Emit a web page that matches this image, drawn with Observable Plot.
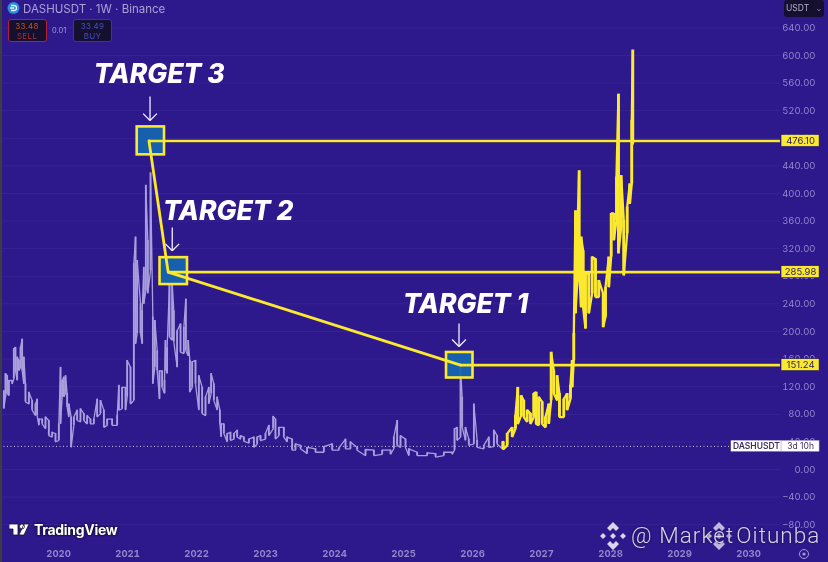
<!DOCTYPE html>
<html><head><meta charset="utf-8">
<script src="https://cdn.jsdelivr.net/npm/d3@7"></script>
<script src="https://cdn.jsdelivr.net/npm/@observablehq/plot@0.6"></script>
<style>
html,body{margin:0;padding:0;background:#2d188c;width:828px;height:562px;overflow:hidden;font-family:Inter,sans-serif}
#wrap{position:relative;width:828px;height:562px;filter:blur(.35px)}
#chart svg{display:block}
.o{position:absolute;white-space:nowrap}
.btn{box-sizing:border-box;background:#15102f;border-radius:3px;text-align:center;font-size:8px;line-height:9.5px;padding-top:2px;width:39px;height:23px;top:19px;letter-spacing:.3px}
</style></head><body>
<div id="wrap"><div id="chart"></div>
<div class="o" style="left:0;top:0;width:2px;height:562px;background:#3d3d45"></div>
<svg class="o" style="left:7px;top:2px" width="13" height="13"><circle cx="6.5" cy="6" r="6" fill="#2b8fd8"/><path d="M4 3.5h3a2.5 2.5 0 0 1 0 5H4M3 6h4" fill="none" stroke="#e8f4ff" stroke-width="1.3"/></svg>
<div class="o" style="left:23px;top:2px;font-size:11.5px;color:#a9a4d4">DASHUSDT · 1W · Binance</div>
<div class="o btn" style="left:7.5px;border:1px solid #b5202e;color:#c4501f">33.48<br><span style="color:#b02c2c">SELL</span></div>
<div class="o" style="left:52px;top:26px;font-size:7.5px;color:#a49fd0">0.01</div>
<div class="o btn" style="left:73px;border:1px solid #3236b0;color:#4450c4">33.49<br>BUY</div>
<div class="o" style="left:784px;top:0;width:40px;height:17px;background:#15102f;border-radius:3px;color:#b4b0c8;font-size:8.5px;line-height:17px;padding-left:2px;box-sizing:border-box">USDT <span style="font-size:6px;margin-left:5px">⌄</span></div>
<svg class="o" style="left:9px;top:523px" width="22" height="14"><path d="M0 1h9v11H4V6H0zM20 1l-5 11h-5l5-11zM13 1a2.5 2.5 0 1 1 0 5 2.5 2.5 0 1 1 0-5" fill="#fff" stroke="#15102f" stroke-width=".8"/></svg>
<div class="o" style="left:34px;top:521px;font-size:14px;font-weight:700;letter-spacing:-.3px;color:#fff;text-shadow:0 0 2px #15102f,0 0 2px #15102f,0 0 2px #15102f">TradingView</div>
<svg class="o" style="left:598px;top:521px" width="30" height="30" viewBox="-15 -15 30 30" fill="#d8d5ee"><path d="M0-14l6 6-3 3-3-3-3 3-3-3zM0 14l6-6-3-3-3 3-3-3-3 3zM-10-3l3 3-3 3-3-3zM10-3l3 3-3 3-3-3zM0-3l3 3-3 3-3-3z"/></svg>
<svg class="o" style="left:704px;top:521px" width="30" height="30" viewBox="-15 -15 30 30" fill="#d8d5ee" opacity=".85"><path d="M0-14l6 6-3 3-3-3-3 3-3-3zM0 14l6-6-3-3-3 3-3-3-3 3zM-10-3l3 3-3 3-3-3zM10-3l3 3-3 3-3-3zM0-3l3 3-3 3-3-3z"/></svg>
<div class="o" style="left:631px;top:522px;font-family:Roboto,sans-serif;font-size:22.5px;font-weight:300;letter-spacing:1.05px;color:#d8d5ee;text-shadow:0 0 2px #15102f">@ Market<span style="margin-left:2px">Oitunba</span></div>
<svg class="o" style="left:798px;top:548px" width="12" height="12"><circle cx="6" cy="6" r="4.5" fill="none" stroke="#a49fd0"/><circle cx="6" cy="6" r="1.6" fill="#a49fd0"/></svg>
</div>
<script>
// Weekly range of DASHUSDT, history: year, high, low (USDT)
const histYear=[2019.207,2019.231,2019.256,2019.28,2019.328,2019.352,2019.376,2019.401,2019.425,2019.449,2019.473,2019.497,2019.521,2019.57,2019.618,2019.666,2019.69,2019.715,2019.763,2019.811,2019.859,2019.908,2019.956,2020.004,2020.029,2020.053,2020.077,2020.101,2020.125,2020.149,2020.183,2020.222,2020.27,2020.318,2020.367,2020.415,2020.463,2020.512,2020.56,2020.608,2020.657,2020.705,2020.777,2020.85,2020.874,2020.922,2020.971,2020.995,2021.043,2021.091,2021.116,2021.14,2021.188,2021.212,2021.236,2021.265,2021.294,2021.333,2021.367,2021.396,2021.43,2021.463,2021.502,2021.536,2021.55,2021.574,2021.608,2021.647,2021.671,2021.719,2021.768,2021.816,2021.845,2021.879,2021.903,2021.937,2021.985,2022.033,2022.082,2022.13,2022.178,2022.212,2022.251,2022.299,2022.338,2022.357,2022.396,2022.444,2022.492,2022.541,2022.589,2022.637,2022.686,2022.758,2022.831,2022.879,2022.927,2022.999,2023.048,2023.111,2023.144,2023.193,2023.265,2023.313,2023.386,2023.434,2023.507,2023.603,2023.724,2023.845,2023.966,2024.062,2024.159,2024.231,2024.328,2024.449,2024.57,2024.691,2024.811,2024.859,2024.908,2024.956,2025.029,2025.077,2025.198,2025.343,2025.464,2025.584,2025.705,2025.739,2025.777,2025.826,2025.85,2025.898,2025.946,2026.019,2026.067,2026.164,2026.236,2026.309,2026.357,2026.43];
const histHigh=[114,139,136,129,129,175,177,163,158,177,189,163,124,112,100,95,102,73,73,76,71,54,52,66,148,129,134,136,110,95,76,76,86,88,81,78,73,73,102,100,86,73,73,78,122,119,119,158,148,298,337,303,240,230,293,412,332,430,221,216,172,143,143,129,187,177,269,269,230,201,211,206,247,187,158,156,158,136,119,105,119,139,124,105,86,66,66,52,54,52,57,49,47,44,47,47,49,52,64,77,73,61,61,47,44,37,35,32,30,33,37,31,44,40,32,29,28,28,28,47,71,49,44,30,25,24,23,25,25,59,61,148,105,61,44,95,42,35,47,57,49,40];
const histLow=[88,105,110,107,124,131,143,129,143,148,143,124,98,95,86,78,78,64,66,59,49,47,40,42,66,105,105,110,90,76,32,64,71,69,71,66,66,66,76,81,61,64,64,64,86,88,86,105,95,100,182,197,197,182,240,259,255,288,124,148,143,102,119,110,148,139,192,187,185,148,170,168,172,165,112,119,124,86,81,78,95,110,100,86,66,47,52,40,42,44,47,44,41,38,32,37,42,44,49,59,44,49,47,40,28,28,30,23,25,25,28,28,30,30,28,20,20,22,22,30,35,32,32,20,20,20,18,20,22,28,42,47,61,42,35,37,32,30,32,33,37,30];
// Projected path (yellow): year, high, low
const projYear=[2026.444,2026.502,2026.574,2026.622,2026.656,2026.704,2026.743,2026.791,2026.84,2026.888,2026.922,2026.96,2027.009,2027.057,2027.105,2027.139,2027.178,2027.226,2027.26,2027.323,2027.371,2027.419,2027.444,2027.468,2027.492,2027.526,2027.545,2027.574,2027.603,2027.637,2027.685,2027.733,2027.782,2027.83,2027.893,2027.927,2027.975,2028.009,2028.048,2028.086,2028.115,2028.154,2028.192,2028.241,2028.279,2028.308,2028.323];
const projHigh=[40,52,61,78,119,107,100,86,81,110,112,105,98,76,95,170,143,136,110,102,110,122,158,197,375,366,433,337,317,284,284,308,305,274,255,264,308,371,371,424,544,426,361,380,414,506,608];
const projLow=[29,35,47,59,66,78,76,69,66,76,66,64,66,61,66,100,110,100,76,76,86,102,119,158,226,284,288,235,235,204,226,255,250,250,206,221,264,308,332,361,313,351,281,342,385,414,472];
const priceTicks=d3.range(-80,641,40);
const yearTicks=[2020,2021,2022,2023,2024,2025,2026,2027,2028,2029,2030];
// Targets: label, level, turning-point year, box years, box prices, arrow year/prices, label position
const targetName=["TARGET 3","TARGET 2","TARGET 1"];
const targetLevel=[476.10,285.98,151.24];
const targetYear=[2021.311,2021.589,2025.826];
const boxX1=[2021.14,2021.471,2025.623], boxX2=[2021.536,2021.869,2026.007];
const boxY1=[456,268,132.6], boxY2=[496.5,307,169.6];
const arrowX=[2021.326,2021.648,2025.804], arrowY1=[540.6,350.7,211.6], arrowY2=[505.8,317,178.3];
const nameX=[2021.46,2022.46,2025.9], nameY=[572.5,374,239];
const lastPrice=33.48, axisEnd=2030.463, tagX1=2030.478, tagX2=2031.03;
const wingX=.1, wingY=10;

const zig=(ys,hs,ls)=>ys.flatMap((y,i)=>i%2?[[y,ls[i]],[y,hs[i]]]:[[y,hs[i]],[y,ls[i]]]);
const bars=(ys,hs,ls)=>ys.map((y,i)=>({y,h:hs[i],l:ls[i]}));
const T=targetName.map((n,i)=>({n,level:targetLevel[i],yr:targetYear[i],x1:boxX1[i],x2:boxX2[i],y1:boxY1[i],y2:boxY2[i],ax:arrowX[i],a1:arrowY1[i],a2:arrowY2[i],nx:nameX[i],ny:nameY[i]}));
const lav="#a99fdc", yel="#fbe92f", arrowColor="#f2f0fb";
const plot=Plot.plot({
  width:828,height:562,margin:0,
  style:{background:"#2d188c",fontFamily:"Inter,sans-serif",overflow:"visible"},
  x:{domain:[2019.159,2031.159],range:[0,828]},
  y:{domain:[-134.8,679.7],range:[562,0]},
  marks:[
    Plot.ruleY(priceTicks,{x1:2019.159,x2:axisEnd,stroke:"#fff",strokeOpacity:.05}),
    Plot.axisY({anchor:"right",ticks:priceTicks,tickSize:0,tickPadding:0,dx:-13,textAnchor:"end",fontSize:9.5,fill:"#9188cc",stroke:"none",label:null,tickFormat:d=>(d<0?"−":"")+Math.abs(d).toFixed(2)}),
    Plot.axisX({anchor:"bottom",ticks:yearTicks,tickSize:0,tickPadding:0,dy:-12,fontSize:9.5,fontWeight:700,fill:"#9188cc",stroke:"none",label:null,tickFormat:d=>String(d)}),
    Plot.ruleY([lastPrice],{x1:2019.159,x2:2029.75,stroke:"#cfcbf0",strokeDasharray:"1,2.5",strokeWidth:1}),
    Plot.line(zig(histYear,histHigh,histLow),{x:"0",y:"1",stroke:lav,strokeWidth:1.3,strokeLinejoin:"miter"}),
    Plot.ruleX(bars(histYear,histHigh,histLow),{x:"y",y1:"l",y2:"h",stroke:lav,strokeWidth:1.8}),
    Plot.ruleY(T,{y:"level",x1:"yr",x2:axisEnd,stroke:"#1a1060",strokeWidth:3.8,strokeOpacity:.55}),
    Plot.line(zig(projYear,projHigh,projLow),{x:"0",y:"1",stroke:yel,strokeWidth:2.3,strokeLinejoin:"miter"}),
    Plot.ruleX(bars(projYear,projHigh,projLow),{x:"y",y1:"l",y2:"h",stroke:yel,strokeWidth:2.8}),
    Plot.rect(T,{x1:"x1",x2:"x2",y1:"y1",y2:"y2",fill:"#1566b0",fillOpacity:.93,stroke:yel,strokeWidth:2.6}),
    Plot.ruleY(T,{y:"level",x1:"yr",x2:axisEnd,stroke:yel,strokeWidth:2.6}),
    Plot.line(T,{x:"yr",y:"level",stroke:yel,strokeWidth:2.8}),
    Plot.link(T,{x1:"ax",x2:"ax",y1:"a1",y2:"a2",stroke:arrowColor,strokeWidth:1.3}),
    Plot.link(T,{x1:"ax",y1:"a2",x2:d=>d.ax-wingX,y2:d=>d.a2+wingY,stroke:arrowColor,strokeWidth:1.3}),
    Plot.link(T,{x1:"ax",y1:"a2",x2:d=>d.ax+wingX,y2:d=>d.a2+wingY,stroke:arrowColor,strokeWidth:1.3}),
    Plot.text(T,{x:"nx",y:"ny",text:"n",fill:"#fff",fontSize:26.5,fontWeight:800,fontStyle:"italic",fontFamily:"Inter,sans-serif"}),
    Plot.rect(T,{x1:tagX1,x2:tagX2,y1:d=>d.level-8.7,y2:d=>d.level+8.7,fill:yel,stroke:"#1a1060",strokeWidth:.6}),
    Plot.text(T,{x:(tagX1+tagX2)/2,y:"level",text:d=>d.level.toFixed(2),fill:"#2b2060",fontSize:9.5}),
    Plot.rect([0],{x1:2029.75,x2:tagX1,y1:lastPrice-8,y2:lastPrice+8,fill:"#fff"}),
    Plot.rect([0],{x1:tagX1,x2:tagX2,y1:lastPrice-8,y2:lastPrice+8,fill:"#fff",stroke:"#9188cc",strokeWidth:.5}),
    Plot.text(["DASHUSDT"],{x:(2029.75+tagX1)/2,y:lastPrice,fill:"#3a3060",fontSize:8.5,fontWeight:600}),
    Plot.text(["3d 10h"],{x:(tagX1+tagX2)/2,y:lastPrice,fill:"#3a3060",fontSize:8.5})
  ]
});
document.getElementById("chart").append(plot);
</script>
</body></html>
